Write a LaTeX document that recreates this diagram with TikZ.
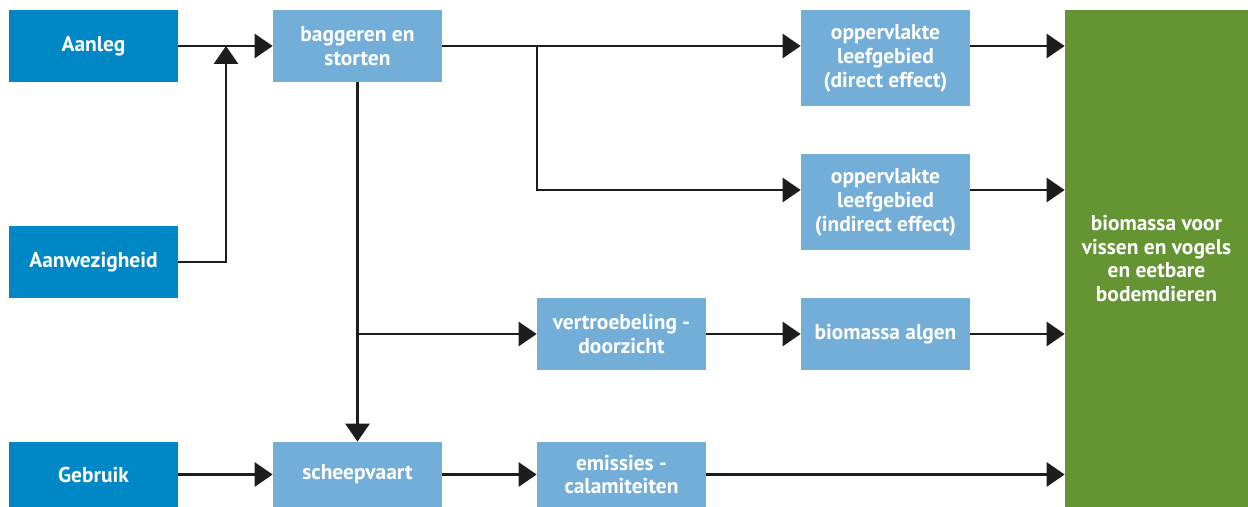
\documentclass[tikz,border=0pt]{standalone}
\usepackage{fontspec}
\setmainfont{PT Sans}
\usetikzlibrary{arrows.meta}
\definecolor{donker}{HTML}{0088C6}
\definecolor{licht}{HTML}{73AED9}
\definecolor{groen}{HTML}{659433}
\definecolor{lijn}{HTML}{1D1D1F}
\begin{document}
\begin{tikzpicture}[
  box/.style={fill=#1, text=white, font=\bfseries\fontsize{12.2}{13.6}\selectfont, align=center, minimum width=3.38cm, inner sep=0pt},
  pijl/.style={draw=lijn, line width=1.7pt, -{Triangle[length=0.36cm, width=0.48cm]}},
  lijntje/.style={draw=lijn, line width=1.7pt}]
\useasboundingbox (0,0) rectangle (24.96,-10.14);
\node[box=donker, minimum height=1.44cm] (aanleg) at (1.87,-0.92) {Aanleg};
\node[box=donker, minimum height=1.44cm] (aanwezig) at (1.87,-5.24) {Aanwezigheid};
\node[box=donker, minimum height=1.3cm] (gebruik) at (1.87,-9.49) {Gebruik};
\node[box=licht, minimum height=1.44cm] (bagger) at (7.15,-0.92) {baggeren en\\storten};
\node[box=licht, minimum height=1.92cm] (direct) at (17.71,-1.16) {oppervlakte\\leefgebied\\(direct effect)};
\node[box=licht, minimum height=1.92cm] (indirect) at (17.71,-4.04) {oppervlakte\\leefgebied\\(indirect effect)};
\node[box=licht, minimum height=1.44cm] (troebel) at (12.43,-6.68) {vertroebeling -\\doorzicht};
\node[box=licht, minimum height=1.44cm] (algen) at (17.71,-6.68) {biomassa algen};
\node[box=licht, minimum height=1.3cm] (schip) at (7.15,-9.49) {scheepvaart};
\node[box=licht, minimum height=1.3cm] (emissie) at (12.43,-9.49) {emissies -\\calamiteiten};
\node[box=groen, minimum width=3.66cm, minimum height=9.94cm] (bio) at (23.13,-5.17) {biomassa voor\\vissen en vogels\\en eetbare\\bodemdieren};
\coordinate (k1) at (4.52,-0.92);
\coordinate (k2) at (10.74,-0.92);
\coordinate (r2) at (0,-3.8);
% pijlen
\draw[pijl] (aanleg.east) -- (bagger.west);
\draw[pijl] (aanwezig.east) -| (k1);
\draw[pijl] (bagger.east) -- (bagger.east -| direct.west);
\draw[pijl] (k2) |- (indirect.west |- r2);
\draw[pijl] (bagger.south) -- (schip.north);
\draw[pijl] (bagger.south |- troebel.west) -- (troebel.west);
\draw[pijl] (troebel.east) -- (algen.west);
\draw[pijl] (gebruik.east) -- (schip.west);
\draw[pijl] (schip.east) -- (emissie.west);
\draw[pijl] (direct.east |- bagger.east) -- (bio.west |- bagger.east);
\draw[pijl] (indirect.east |- r2) -- (bio.west |- r2);
\draw[pijl] (algen.east) -- (bio.west |- algen.east);
\draw[pijl] (emissie.east) -- (bio.west |- emissie.east);
\end{tikzpicture}
\end{document}
